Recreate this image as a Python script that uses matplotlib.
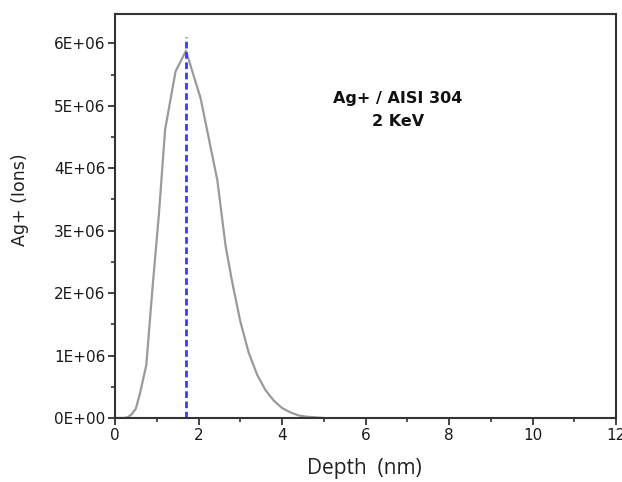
import numpy as np
import matplotlib
matplotlib.use("Agg")
import matplotlib.pyplot as plt
from matplotlib.ticker import MultipleLocator, FuncFormatter

# implanted Ag+ profile, depth in nm, counts in ions
depth = [0.0, 0.2, 0.3, 0.4, 0.5, 0.6, 0.75, 0.9, 1.05, 1.2, 1.45, 1.7,
         2.05, 2.45, 2.65, 2.8, 3.0, 3.2, 3.4, 3.6, 3.8, 4.0, 4.2, 4.4,
         4.6, 4.8, 5.0]
ions = [0.0, 0.0, 0.01, 0.06, 0.15, 0.4, 0.85, 2.1, 3.25, 4.62, 5.55, 5.88,
        5.12, 3.81, 2.75, 2.2, 1.55, 1.05, 0.7, 0.45, 0.28, 0.16, 0.09, 0.04,
        0.02, 0.01, 0.0]
ions = np.array(ions) * 1e6

peak_depth = 1.7
peak_top = 6.1e6
label_text = "Ag+ / AISI 304\n2 KeV"

plt.rcParams['font.family'] = ['DejaVu Sans']

fig = plt.figure(figsize=(6.22, 4.82), dpi=100)
ax = fig.add_axes([0.1849, 0.1328, 0.8055, 0.8382])

ax.plot(depth, ions, color='#9a9a9a', lw=1.6)
ax.plot([peak_depth, peak_depth], [0, peak_top], color='#3a3aff', lw=2,
        dashes=(2.4, 1.3))

ax.set_xlim(0, 12)
ax.set_ylim(0, 6.47e6)
ax.xaxis.set_major_locator(MultipleLocator(2))
ax.xaxis.set_minor_locator(MultipleLocator(1))
ax.yaxis.set_major_locator(MultipleLocator(1e6))
ax.yaxis.set_minor_locator(MultipleLocator(5e5))
ax.yaxis.set_major_formatter(FuncFormatter(lambda v, p: f"{int(round(v/1e6))}E+06" if v > 0 else "0E+00"))

for s in ax.spines.values():
    s.set_linewidth(1.5)
    s.set_color('#333333')
ax.tick_params(which='major', direction='out', length=5, width=1.3,
               color='#333333', labelsize=11, labelcolor='#1a1a1a', pad=2)
ax.tick_params(which='minor', direction='out', length=3, width=1.2, color='#333333')
ax.tick_params(top=False, right=False, which='both')

ax.set_ylabel("Ag+ (Ions)", fontsize=12.5, color='#222222')
ax.yaxis.set_label_coords(-0.172, 0.54)
ax.set_xlabel("Depth  (nm)", fontsize=15, color='#222222',
              family=['Open Sans', 'DejaVu Sans'])
ax.xaxis.set_label_coords(0.497, -0.1)

fig.text(398 / 622, 1 - 110 / 482, label_text, ha='center', va='center',
         fontsize=11.5, fontweight='bold', color='#111111', linespacing=1.75)

fig.savefig("out.png", dpi=100, facecolor='white')
